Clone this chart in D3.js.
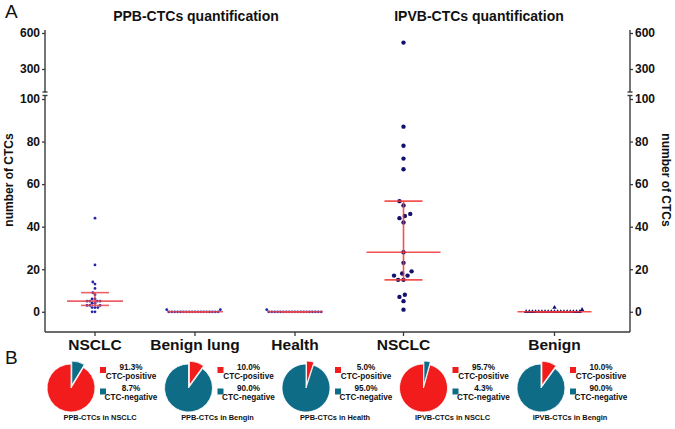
<!DOCTYPE html>
<html>
<head>
<meta charset="utf-8">
<style>
  body { margin: 0; background: #fff; }
  text { font-family: "Liberation Sans", Arial, Helvetica, sans-serif; fill: #111; }
</style>
</head>
<body>
<div id="chart"></div>
<script src="https://cdn.jsdelivr.net/npm/d3@7"></script>
<script>
// ---- data ----
var ppbGroups = ["NSCLC", "Benign lung", "Health"];
var ppbNSCLC = [44, 22, 14, 13, 11, 9, 8, 6, 6, 5, 5, 5, 5, 4, 4, 3, 3, 3, 2, 2, 2, 0, 0];
var ppbBenign = [0, 0, 0, 0, 0, 0, 0, 0, 0, 0, 0, 0, 0, 0, 0, 0, 0, 0, 1, 1];
var ppbHealth = [0, 0, 0, 0, 0, 0, 0, 0, 0, 0, 0, 0, 0, 0, 0, 0, 0, 0, 0, 1];

var ipvbGroups = ["NSCLC", "Benign"];
var ipvbNSCLC = [520, 87, 78, 72, 67, 52, 50, 46, 45, 44, 42, 28, 23, 19, 18, 17, 17, 15, 15, 8, 7, 5, 1];
var ipvbBenign = [0, 0, 0, 0, 0, 0, 0, 0, 0, 0, 0, 0, 0, 0, 0, 0, 0, 0, 1, 2];

var lowerTicks = [0, 20, 40, 60, 80, 100];
var upperTicks = [300, 600];

var pieTitles = ["PPB-CTCs in NSCLC", "PPB-CTCs in Bengin", "PPB-CTCs in Health", "IPVB-CTCs in NSCLC", "IPVB-CTCs in Bengin"];
var piePositive = [91.3, 10.0, 5.0, 95.7, 10.0];
var pieNegative = [8.7, 90.0, 95.0, 4.3, 90.0];

// ---- layout ----
var width = 675, height = 429;
var xL = 45, xR = 630, yB = 332;

var svg = d3.select("#chart").append("svg")
    .attr("width", width)
    .attr("height", height);

var yLow = d3.scaleLinear().domain([-9.5, 100]).range([yB, 99]);
var yUp = d3.scaleLinear().domain([100, 600]).range([93, 33]);
var yOf = function (v) { return v > 100 ? yUp(v) : yLow(v); };

var xPPB = d3.scaleBand().domain(ppbGroups).range([xL, 345]);
var xIPVB = d3.scaleBand().domain(ipvbGroups).range([328, xR]);

// GraphPad style quartiles
var quart = function (arr, p) {
    var s = arr.slice().sort(d3.ascending), n = s.length;
    var pos = p * (n + 1), lo = Math.floor(pos), fr = pos - lo;
    if (lo < 1) return s[0];
    if (lo >= n) return s[n - 1];
    return s[lo - 1] + fr * (s[lo] - s[lo - 1]);
};

// simple beeswarm, smallest first, left side tried first
var swarm = function (values, cx, d) {
    var placed = [];
    values.slice().sort(d3.ascending).forEach(function (v) {
        var y = yOf(v), step = d / 4, off = 0;
        for (var k = 0; k < 800; k++) {
            off = (k % 2 ? -1 : 1) * Math.ceil(k / 2) * step;
            var hit = placed.some(function (p) {
                var dx = p.x - (cx + off), dy = p.y - y;
                return dx * dx + dy * dy < d * d - 0.01;
            });
            if (!hit) break;
        }
        placed.push({ v: v, x: cx + off, y: y });
    });
    return placed;
};

var drawGroup = function (values, cx, opt) {
    var pts = swarm(values, cx, opt.spacing);
    var g = svg.append("g");
    if (opt.shape === "tri") {
        var tri = d3.symbol().type(d3.symbolTriangle).size(opt.size);
        g.selectAll("path").data(pts).enter().append("path")
            .attr("d", tri)
            .attr("transform", function (p) { return "translate(" + p.x + "," + p.y + ")"; })
            .attr("fill", opt.color);
    } else {
        g.selectAll("circle").data(pts).enter().append("circle")
            .attr("cx", function (p) { return p.x; })
            .attr("cy", function (p) { return p.y; })
            .attr("r", opt.r)
            .attr("fill", opt.color);
    }
    var med = quart(values, 0.5), q1 = quart(values, 0.25), q3 = quart(values, 0.75);
    var lg = svg.append("g")
        .attr("stroke", opt.line)
        .attr("stroke-width", 1.6)
        .attr("stroke-opacity", 0.85);
    lg.append("line").attr("x1", cx).attr("x2", cx).attr("y1", yOf(q1)).attr("y2", yOf(q3));
    lg.append("line").attr("x1", cx - opt.capW).attr("x2", cx + opt.capW).attr("y1", yOf(q1)).attr("y2", yOf(q1));
    lg.append("line").attr("x1", cx - opt.capW).attr("x2", cx + opt.capW).attr("y1", yOf(q3)).attr("y2", yOf(q3));
    lg.append("line").attr("x1", cx - opt.medW).attr("x2", cx + opt.medW).attr("y1", yOf(med)).attr("y2", yOf(med));
};

var ppbOpt = { spacing: 2.9, r: 1.4, color: "#2323a8", line: "#e8484e", capW: 14, medW: 28 };
var ppbData = [ppbNSCLC, ppbBenign, ppbHealth];
ppbGroups.forEach(function (g, i) {
    drawGroup(ppbData[i], xPPB(g) + xPPB.bandwidth() / 2, ppbOpt);
});

drawGroup(ipvbNSCLC, xIPVB("NSCLC") + xIPVB.bandwidth() / 2,
    { spacing: 5.4, r: 2.2, color: "#12126e", line: "#f03434", capW: 19, medW: 37 });
drawGroup(ipvbBenign, xIPVB("Benign") + xIPVB.bandwidth() / 2,
    { spacing: 3.15, size: 9, shape: "tri", color: "#12126e", line: "#f03434", capW: 19, medW: 37 });

// ---- axes ----
var axisColor = "#3a3a3a";
var styleAxis = function (g) {
    g.select(".domain").remove();
    g.selectAll(".tick line").attr("stroke", axisColor).attr("stroke-width", 1.3);
    g.selectAll(".tick text").attr("font-size", 12).attr("font-weight", "bold")
        .attr("font-family", "Liberation Sans, Arial, sans-serif").attr("fill", "#111");
};

[[xL, d3.axisLeft], [xR, d3.axisRight]].forEach(function (a) {
    var gx = a[0], mk = a[1];
    svg.append("g").attr("transform", "translate(" + gx + ",0)")
        .call(mk(yLow).tickValues(lowerTicks).tickSize(3).tickPadding(2))
        .call(styleAxis);
    svg.append("g").attr("transform", "translate(" + gx + ",0)")
        .call(mk(yUp).tickValues(upperTicks).tickSize(3).tickPadding(2))
        .call(styleAxis);
    var ax = svg.append("g").attr("stroke", axisColor).attr("stroke-width", 1.4);
    ax.append("line").attr("x1", gx).attr("x2", gx).attr("y1", 30).attr("y2", 92);
    ax.append("line").attr("x1", gx).attr("x2", gx).attr("y1", 95.5).attr("y2", yB);
    ax.append("line").attr("x1", gx - 2.5).attr("x2", gx + 2.5).attr("y1", 92).attr("y2", 92);
    ax.append("line").attr("x1", gx - 2.5).attr("x2", gx + 2.5).attr("y1", 95.5).attr("y2", 95.5);
});

// bottom category axis
svg.append("line").attr("x1", xL).attr("x2", xR).attr("y1", yB).attr("y2", yB)
    .attr("stroke", axisColor).attr("stroke-width", 1.4);

var catAxis = function (scale) {
    var g = svg.append("g").attr("transform", "translate(0," + yB + ")")
        .call(d3.axisBottom(scale).tickSize(4).tickPadding(3));
    g.select(".domain").remove();
    g.selectAll(".tick line").attr("stroke", axisColor).attr("stroke-width", 1.3);
    g.selectAll(".tick text").attr("font-size", 15.5).attr("font-weight", "bold")
        .attr("font-family", "Liberation Sans, Arial, sans-serif").attr("fill", "#111");
};
catAxis(xPPB);
catAxis(xIPVB);

// titles and labels
svg.append("text").attr("x", 196).attr("y", 21).attr("text-anchor", "middle")
    .attr("font-size", 14).attr("font-weight", "bold").text("PPB-CTCs quantification");
svg.append("text").attr("x", 479).attr("y", 21).attr("text-anchor", "middle")
    .attr("font-size", 14).attr("font-weight", "bold").text("IPVB-CTCs quantification");
svg.append("text").attr("x", 5).attr("y", 18).attr("font-size", 19).text("A");
svg.append("text").attr("x", 5).attr("y", 364).attr("font-size", 19).text("B");

svg.append("text").attr("transform", "translate(13,180) rotate(-90)")
    .attr("text-anchor", "middle").attr("font-size", 12).attr("font-weight", "bold")
    .text("number of CTCs");
svg.append("text").attr("transform", "translate(662,180) rotate(90)")
    .attr("text-anchor", "middle").attr("font-size", 12).attr("font-weight", "bold")
    .text("number of CTCs");

// ---- pies ----
var pieX = d3.scalePoint().domain(pieTitles).range([71, 541]);
var pieY = 388, pieR = 24;
var red = "#f21c1c", teal = "#0e6c86";
var pie = d3.pie().sort(function (a, b) { return a.v - b.v; }).value(function (d) { return d.v; });
var arc = d3.arc().innerRadius(0).outerRadius(pieR);

pieTitles.forEach(function (t, i) {
    var cx = pieX(t);
    var parts = [{ k: "pos", v: piePositive[i], c: red }, { k: "neg", v: pieNegative[i], c: teal }];
    var arcs = pie(parts);
    var g = svg.append("g").attr("transform", "translate(" + cx + "," + pieY + ")");
    g.selectAll("path").data(arcs).enter().append("path")
        .attr("d", arc)
        .attr("fill", function (a) { return a.data.c; })
        .attr("stroke", "#fff").attr("stroke-width", 0.8)
        .attr("transform", function (a) {
            if (a.data.v > 50) return null;
            var m = (a.startAngle + a.endAngle) / 2;
            return "translate(" + (3 * Math.sin(m)) + "," + (-3 * Math.cos(m)) + ")";
        });

    var lx = cx + 32, tx = cx + 60;
    svg.append("rect").attr("x", lx - 3).attr("y", 367).attr("width", 6).attr("height", 6).attr("fill", red);
    svg.append("rect").attr("x", lx - 3).attr("y", 388.5).attr("width", 6).attr("height", 6).attr("fill", teal);
    var lab = [
        [piePositive[i].toFixed(1) + "%", 369.5],
        ["CTC-positive", 378.5],
        [pieNegative[i].toFixed(1) + "%", 391],
        ["CTC-negative", 400]
    ];
    lab.forEach(function (l) {
        svg.append("text").attr("x", tx).attr("y", l[1]).attr("text-anchor", "middle")
            .attr("font-size", 8.2).attr("font-weight", "bold").text(l[0]);
    });
    svg.append("text").attr("x", cx + 29).attr("y", 420).attr("text-anchor", "middle")
        .attr("font-size", 7.4).attr("font-weight", "bold").text(t);
});
</script>
</body>
</html>
